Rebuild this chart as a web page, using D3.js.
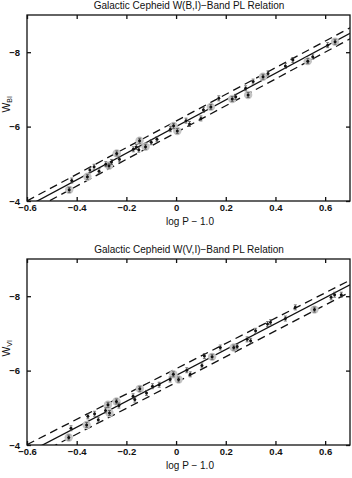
<!DOCTYPE html>
<html>
<head>
<meta charset="utf-8">
<script src="https://cdn.jsdelivr.net/npm/d3@7"></script>
<style>
  body { margin: 0; background: #fff; }
  text { font-family: "Liberation Sans", Arial, sans-serif; fill: #111; }
</style>
</head>
<body>
<script>
// x = log P - 1.0, halo = 1 where the point has a grey circle
const bi_x = [-0.43, -0.42, -0.357, -0.347, -0.33, -0.31, -0.283, -0.27, -0.26, -0.239, -0.228, -0.172, -0.16, -0.15, -0.147, -0.123, -0.10, -0.077, -0.023, -0.01, 0.005, 0.04, 0.054, 0.10, 0.11, 0.14, 0.172, 0.226, 0.24, 0.28, 0.29, 0.31, 0.35, 0.37, 0.44, 0.47, 0.53, 0.55, 0.61, 0.64];
const bi_w = [-4.30, -4.55, -4.65, -4.83, -4.92, -4.80, -4.99, -4.95, -5.05, -5.28, -5.12, -5.39, -5.45, -5.38, -5.62, -5.46, -5.58, -5.66, -5.93, -6.02, -5.88, -6.16, -6.07, -6.22, -6.45, -6.53, -6.76, -6.74, -6.80, -7.03, -6.85, -7.21, -7.34, -7.43, -7.63, -7.79, -7.76, -7.88, -8.19, -8.28];
const bi_halo = [1, 0, 1, 0, 0, 0, 0, 1, 0, 1, 0, 0, 0, 0, 1, 1, 0, 0, 0, 1, 1, 0, 0, 0, 0, 1, 0, 1, 0, 0, 1, 0, 1, 0, 0, 0, 1, 0, 0, 1];

const vi_x = [-0.432, -0.423, -0.36, -0.355, -0.328, -0.313, -0.284, -0.274, -0.268, -0.24, -0.23, -0.173, -0.166, -0.146, -0.119, -0.095, -0.068, -0.024, -0.011, 0.01, 0.043, 0.057, 0.104, 0.114, 0.145, 0.178, 0.232, 0.246, 0.286, 0.30, 0.32, 0.368, 0.38, 0.44, 0.48, 0.557, 0.624, 0.638, 0.665];
const vi_w = [-4.20, -4.45, -4.54, -4.77, -4.84, -4.68, -4.93, -5.08, -4.86, -5.17, -5.06, -5.31, -5.22, -5.51, -5.40, -5.58, -5.62, -5.76, -5.90, -5.76, -6.01, -5.90, -6.14, -6.39, -6.37, -6.62, -6.62, -6.65, -6.84, -6.80, -7.07, -7.25, -7.30, -7.40, -7.70, -7.64, -7.97, -8.04, -8.04];
const vi_halo = [1, 0, 1, 0, 0, 0, 0, 1, 1, 1, 0, 0, 0, 1, 0, 0, 0, 0, 1, 1, 0, 0, 0, 0, 1, 0, 1, 0, 0, 0, 0, 0, 0, 0, 0, 1, 0, 0, 0];

// fitted lines: [intercept, slope]
const bi_fit = [-6.00, -3.58];
const bi_upper = [-6.15, -3.58];
const bi_lower = [-5.84, -3.60];
const vi_fit = [-5.87, -3.48];
const vi_upper = [-6.05, -3.40];
const vi_lower = [-5.68, -3.47];

const xTicks = [-0.6, -0.4, -0.2, 0, 0.2, 0.4, 0.6];
const yTicks = [-4, -6, -8];

const width = 352, height = 478;
const svg = d3.select("body").append("svg")
    .attr("width", width)
    .attr("height", height);

function fmt(v) {
    return v === 0 ? "0" : String(v).replace("-", "\u2212");
}

function drawPanel(top, title, sub, xs, ws, halos, fit, upper, lower) {
    const x = d3.scaleLinear().domain([-0.6, 0.7]).range([27, 350]);
    const y = d3.scaleLinear().domain([-4, -9]).range([top + 186, top]);
    const g = svg.append("g");

    g.append("text")
        .attr("x", 189).attr("y", top - 6)
        .attr("text-anchor", "middle")
        .attr("font-size", 10)
        .text(title);

    // clip lines to frame
    const clipId = "clip" + top;
    g.append("clipPath").attr("id", clipId)
        .append("rect")
        .attr("x", x(-0.6)).attr("y", y(-9))
        .attr("width", x(0.7) - x(-0.6)).attr("height", y(-4) - y(-9));

    const lines = g.append("g").attr("clip-path", `url(#${clipId})`);
    [[upper, "8,5"], [lower, "8,5"], [fit, null]].forEach(([l, dash]) => {
        lines.append("line")
            .attr("x1", x(-0.6)).attr("y1", y(l[0] + l[1] * -0.6))
            .attr("x2", x(0.7)).attr("y2", y(l[0] + l[1] * 0.7))
            .attr("stroke", "#111")
            .attr("stroke-width", 1.3)
            .attr("stroke-dasharray", dash);
    });

    const pts = xs.map((v, i) => ({ x: v, w: ws[i], halo: halos[i] }));

    g.selectAll(".halo").data(pts.filter(d => d.halo)).enter()
        .append("circle")
        .attr("cx", d => x(d.x)).attr("cy", d => y(d.w))
        .attr("r", 4.2)
        .attr("fill", "#c4c4c4");

    // small error bars
    g.selectAll(".err").data(pts).enter()
        .append("path")
        .attr("d", d => {
            const cx = x(d.x), cy = y(d.w);
            return `M${cx},${cy - 2.5}V${cy + 2.5}M${cx - 1.5},${cy - 2.5}H${cx + 1.5}M${cx - 1.5},${cy + 2.5}H${cx + 1.5}`;
        })
        .attr("stroke", "#444")
        .attr("stroke-width", 0.7)
        .attr("fill", "none");

    g.selectAll(".dot").data(pts).enter()
        .append("circle")
        .attr("cx", d => x(d.x)).attr("cy", d => y(d.w))
        .attr("r", 1.5)
        .attr("fill", "#111");

    // frame
    g.append("rect")
        .attr("x", x(-0.6)).attr("y", y(-9))
        .attr("width", x(0.7) - x(-0.6)).attr("height", y(-4) - y(-9))
        .attr("fill", "none")
        .attr("stroke", "#111")
        .attr("stroke-width", 1.3);

    // ticks pointing inward on all sides
    g.append("g").attr("transform", `translate(0,${y(-4)})`)
        .call(d3.axisBottom(x).tickValues(xTicks).tickSize(-4).tickFormat(fmt).tickPadding(3))
        .call(a => a.select(".domain").remove());
    g.append("g").attr("transform", `translate(0,${y(-9)})`)
        .call(d3.axisTop(x).tickValues(xTicks).tickSize(-4).tickFormat(""))
        .call(a => a.select(".domain").remove());
    g.append("g").attr("transform", `translate(${x(-0.6)},0)`)
        .call(d3.axisLeft(y).tickValues(yTicks).tickSize(-4).tickFormat(fmt).tickPadding(7))
        .call(a => a.select(".domain").remove());
    g.append("g").attr("transform", `translate(${x(0.7)},0)`)
        .call(d3.axisRight(y).tickValues(yTicks).tickSize(-4).tickFormat(""))
        .call(a => a.select(".domain").remove());

    g.selectAll(".tick line").attr("stroke", "#111").attr("stroke-width", 1.3);
    g.selectAll(".tick text")
        .attr("font-size", 9.5)
        .attr("font-weight", "bold")
        .attr("font-family", "Liberation Sans, Arial, sans-serif")
        .attr("fill", "#111");

    g.append("text")
        .attr("x", 190).attr("y", y(-4) + 24)
        .attr("text-anchor", "middle")
        .attr("font-size", 10)
        .text("log P \u2212 1.0");

    const yl = g.append("text")
        .attr("transform", `translate(10,${y(-6.6)}) rotate(-90)`)
        .attr("text-anchor", "middle")
        .attr("font-size", 10.5);
    yl.append("tspan").text("W");
    yl.append("tspan").attr("font-size", 7).attr("dy", 2).text(sub);
}

drawPanel(15, "Galactic Cepheid W(B,I)\u2212Band PL Relation", "BI", bi_x, bi_w, bi_halo, bi_fit, bi_upper, bi_lower);
drawPanel(259, "Galactic Cepheid W(V,I)\u2212Band PL Relation", "VI", vi_x, vi_w, vi_halo, vi_fit, vi_upper, vi_lower);
</script>
</body>
</html>
